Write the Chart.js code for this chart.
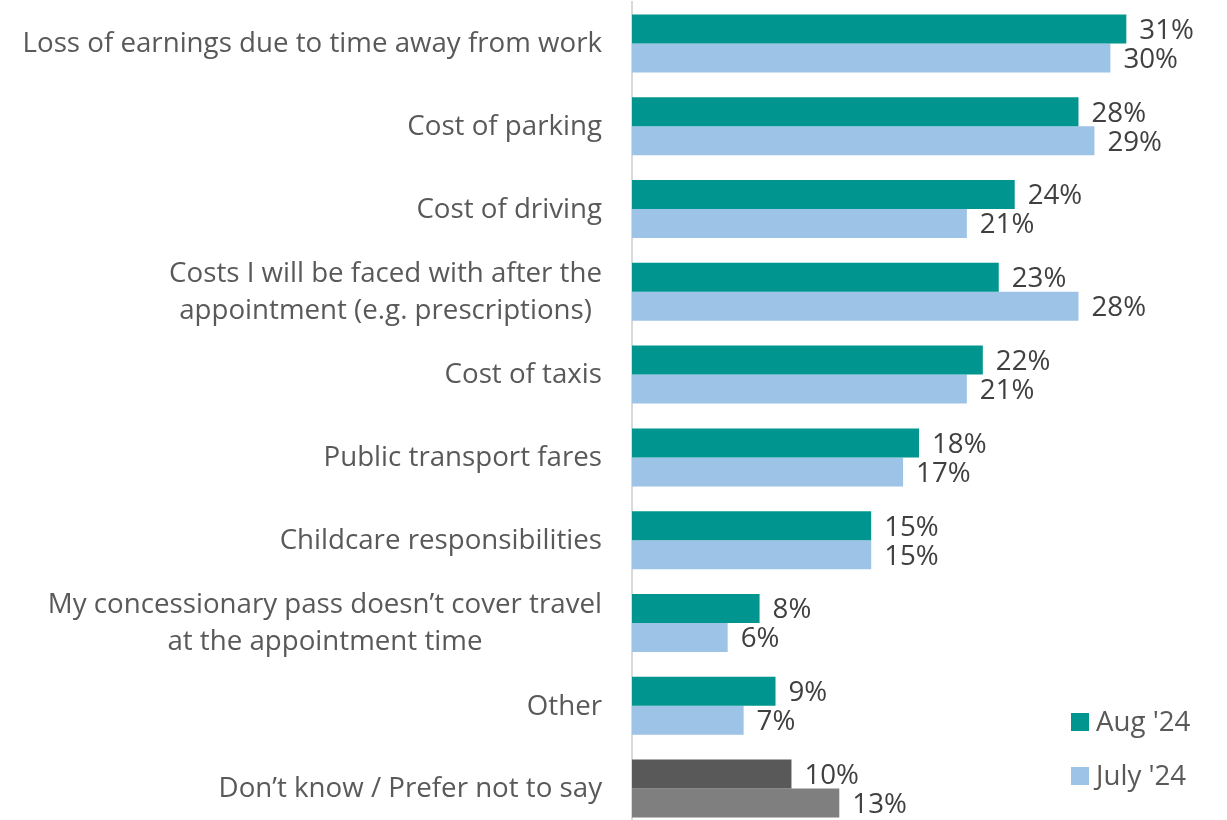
<!DOCTYPE html>
<html>
<head>
<meta charset="utf-8">
<script src="https://cdn.jsdelivr.net/npm/chart.js@4/dist/chart.umd.min.js"></script>
<style>
  html, body { margin: 0; padding: 0; background: #fff; overflow: hidden; }
  #wrap { position: relative; width: 1227px; height: 830px; }
</style>
</head>
<body>
<div id="wrap"><canvas id="costChart"></canvas></div>
<script>
// Barriers / costs reported, two survey waves
const categories = [
    ['Loss of earnings due to time away from work'],
    ['Cost of parking'],
    ['Cost of driving'],
    ['Costs I will be faced with after the', 'appointment (e.g. prescriptions)'],
    ['Cost of taxis'],
    ['Public transport fares'],
    ['Childcare responsibilities'],
    ['My concessionary pass doesn\u2019t cover travel', 'at the appointment time'],
    ['Other'],
    ['Don\u2019t know / Prefer not to say']
];
const aug24 = [31, 28, 24, 23, 22, 18, 15, 8, 9, 10];
const july24 = [30, 29, 21, 28, 21, 17, 15, 6, 7, 13];

const TEAL = '#00968F';
const LIGHT_BLUE = '#9DC3E6';
const DARK_GREY = '#595959';
const MID_GREY = '#7F7F7F';
const FONT = '"Open Sans", Lato, sans-serif';

// last row is shown in greys instead of the series colours
const augColours = aug24.map((v, i) => i === aug24.length - 1 ? DARK_GREY : TEAL);
const julyColours = july24.map((v, i) => i === july24.length - 1 ? MID_GREY : LIGHT_BLUE);

// category labels: block right-aligned against the axis, lines centred within the block
const categoryLabels = {
    id: 'categoryLabels',
    afterDraw(chart) {
        const ctx = chart.ctx;
        const yScale = chart.scales.y;
        const right = chart.chartArea.left - 30;
        const lineHeight = 37;
        ctx.save();
        ctx.font = '27.7px ' + FONT;
        ctx.fillStyle = '#595959';
        ctx.textAlign = 'center';
        ctx.textBaseline = 'middle';
        categories.forEach((lines, i) => {
            const y = yScale.getPixelForValue(i) + 1;
            const widest = Math.max(...lines.map(l => ctx.measureText(l).width));
            const cx = right - widest / 2;
            const top = y - (lines.length - 1) * lineHeight / 2;
            lines.forEach((l, j) => ctx.fillText(l, cx, top + j * lineHeight));
        });
        ctx.restore();
    }
};

// percentage labels just past the end of each bar
const valueLabels = {
    id: 'valueLabels',
    afterDatasetsDraw(chart) {
        const ctx = chart.ctx;
        ctx.save();
        ctx.font = '27.7px ' + FONT;
        ctx.fillStyle = '#404040';
        ctx.textAlign = 'left';
        ctx.textBaseline = 'middle';
        chart.data.datasets.forEach((ds, di) => {
            chart.getDatasetMeta(di).data.forEach((bar, i) => {
                ctx.fillText(ds.data[i] + '%', bar.x + 13, bar.y + 2);
            });
        });
        ctx.restore();
    }
};

// legend stacked in the bottom-right corner
const cornerLegend = {
    id: 'cornerLegend',
    afterDraw(chart) {
        const ctx = chart.ctx;
        const items = [['Aug \'24', TEAL], ['July \'24', LIGHT_BLUE]];
        ctx.save();
        ctx.font = '27.7px ' + FONT;
        ctx.textAlign = 'left';
        ctx.textBaseline = 'middle';
        items.forEach(([text, colour], i) => {
            const y = 722 + i * 54;
            ctx.fillStyle = colour;
            ctx.fillRect(1071, y - 9, 18, 18);
            ctx.fillStyle = '#595959';
            ctx.fillText(text, 1096, y + 1);
        });
        ctx.restore();
    }
};

new Chart(document.getElementById('costChart'), {
    type: 'bar',
    data: {
        labels: categories.map(c => c.join(' ')),
        datasets: [
            { label: 'Aug \'24', data: aug24, backgroundColor: augColours },
            { label: 'July \'24', data: july24, backgroundColor: julyColours }
        ]
    },
    options: {
        indexAxis: 'y',
        responsive: true,
        maintainAspectRatio: false,
        animation: false,
        layout: { padding: { top: 2, right: 5, bottom: 0, left: 0 } },
        datasets: { bar: { categoryPercentage: 0.70, barPercentage: 1.0 } },
        plugins: {
            legend: { display: false },
            tooltip: { enabled: false }
        },
        scales: {
            x: {
                min: 0,
                max: 37,
                display: false
            },
            y: {
                grid: { display: false },
                border: { display: true, color: '#D9D9D9', width: 2 },
                ticks: { display: false },
                afterFit(scale) { scale.width = 632; }
            }
        }
    },
    plugins: [categoryLabels, valueLabels, cornerLegend]
});
</script>
</body>
</html>
